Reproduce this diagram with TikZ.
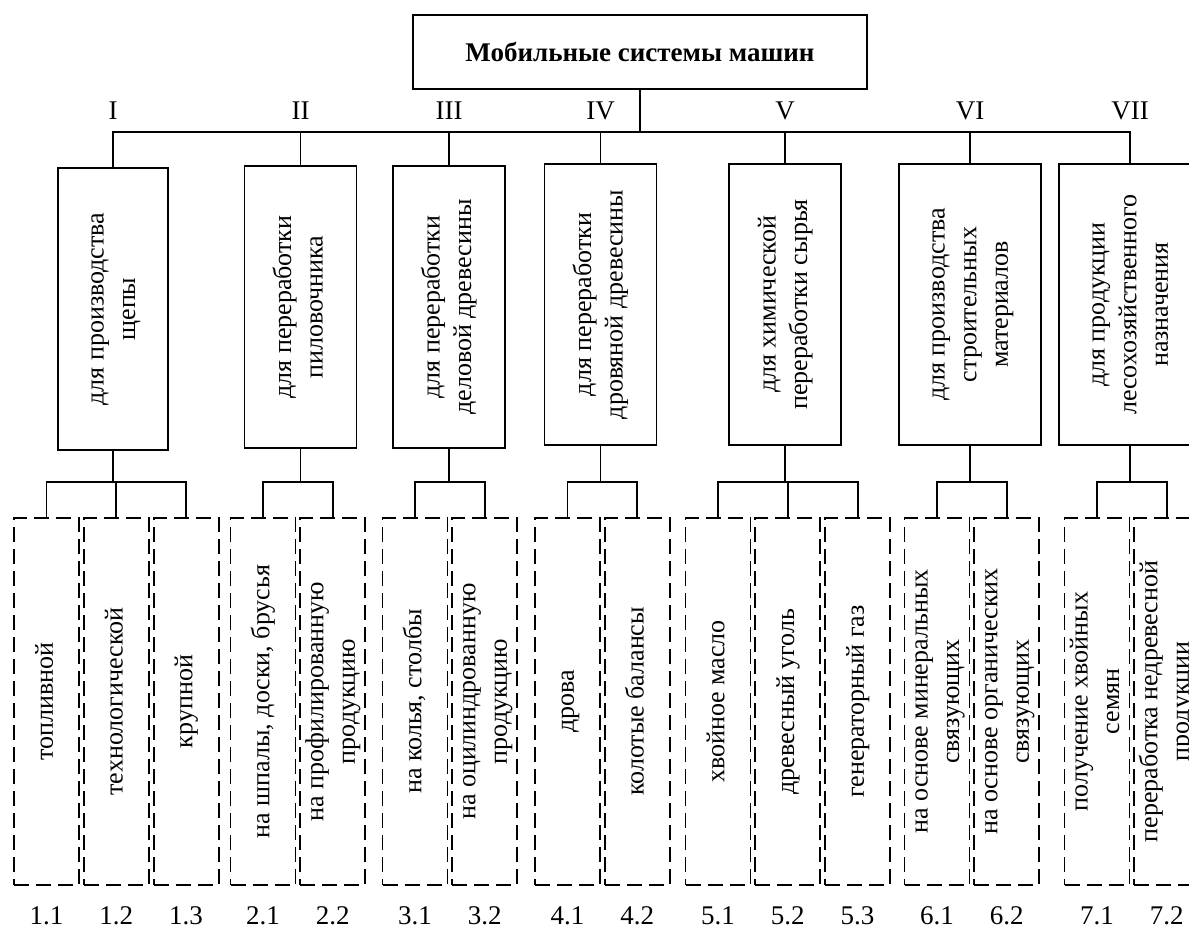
\documentclass[tikz,border=0pt]{standalone}
\usepackage{fontspec}
\setmainfont{Liberation Serif}
\usepackage{graphicx}
\usetikzlibrary{positioning}

\tikzset{
  rootbox/.style={draw, line width=0.9pt, minimum width=227pt, minimum height=37pt, font=\fontsize{13.5}{16}\selectfont\bfseries},
  classbox/.style={draw, line width=0.9pt, minimum width=56pt, minimum height=141pt, inner sep=0pt},
  leafbox/.style={draw, line width=0.9pt, dash pattern=on 7.5pt off 3.5pt, minimum width=32.5pt, minimum height=183.5pt, inner sep=0pt},
  romanlabel/.style={inner sep=0pt},
  numlabel/.style={inner sep=0pt, below=10pt of #1},
  link/.style={line width=0.9pt}
}
\newcommand{\vtext}[1]{\rotatebox{90}{\fontsize{13}{15.8}\selectfont\begin{tabular}{@{}c@{}}#1\end{tabular}}}

\begin{document}
\begin{tikzpicture}[x=0.5pt, y=0.5pt, font=\fontsize{13.5}{16}\selectfont]
  \useasboundingbox (0,0) rectangle (1189,-927);

  \node[rootbox] (root) at (640,-51.75) {Мобильные системы машин};
  \coordinate (bus) at (640,-132);
  \coordinate (sub) at (0,-482);

  % classes of machine systems
  \node[classbox, minimum width=55pt] (c1) at (113,-309) {\vtext{для производства\\щепы}};
  \node[classbox] (c2) at (300.5,-307) {\vtext{для переработки\\пиловочника}};
  \node[classbox] (c3) at (449,-307) {\vtext{для переработки\\деловой древесины}};
  \node[classbox, minimum height=140.5pt] (c4) at (600.5,-304.5) {\vtext{для переработки\\дровяной древесины}};
  \node[classbox, minimum height=140.5pt] (c5) at (785,-304.5) {\vtext{для химической\\переработки сырья}};
  \node[classbox, minimum width=71pt, minimum height=140.5pt] (c6) at (970,-304.5) {\vtext{для производства\\строительных\\материалов}};
  \node[classbox, minimum width=71pt, minimum height=140.5pt] (c7) at (1130,-304.5) {\vtext{для продукции\\лесохозяйственного\\назначения}};

  \draw[link] (root) -- (bus);
  \draw[link] (c1.north) |- (c7.north |- bus) -- (c7.north);
  \foreach \c in {c2,c3,c4,c5,c6}
    \draw[link] (\c.north |- bus) -- (\c.north);

  \node[romanlabel, above=6pt of c1.north |- bus] (r1) {I};
  \node[romanlabel, above=6pt of c2.north |- bus] (r2) {II};
  \node[romanlabel, above=6pt of c3.north |- bus] (r3) {III};
  \node[romanlabel, above=6pt of c4.north |- bus] (r4) {IV};
  \node[romanlabel, above=6pt of c5.north |- bus] (r5) {V};
  \node[romanlabel, above=6pt of c6.north |- bus] (r6) {VI};
  \node[romanlabel, above=6pt of c7.north |- bus] (r7) {VII};

  % products
  \node[leafbox] (l11) at (46.5,-701.5) {\vtext{топливной}};
  \node[leafbox, right=1.5pt of l11] (l12) {\vtext{технологической}};
  \node[leafbox, right=1.5pt of l12] (l13) {\vtext{крупной}};

  \node[leafbox] (l21) at (263,-701.5) {\vtext{на шпалы, доски, брусья}};
  \node[leafbox, right=1.5pt of l21] (l22) {\vtext{на профилированную\\продукцию}};

  \node[leafbox] (l31) at (415,-701.5) {\vtext{на колья, столбы}};
  \node[leafbox, right=1.5pt of l31] (l32) {\vtext{на оцилиндрованную\\продукцию}};

  \node[leafbox] (l41) at (567.5,-701.5) {\vtext{дрова}};
  \node[leafbox, right=1.5pt of l41] (l42) {\vtext{колотые балансы}};

  \node[leafbox] (l51) at (718,-701.5) {\vtext{хвойное масло}};
  \node[leafbox, right=1.5pt of l51] (l52) {\vtext{древесный уголь}};
  \node[leafbox, right=1.5pt of l52] (l53) {\vtext{генераторный газ}};

  \node[leafbox] (l61) at (937,-701.5) {\vtext{на основе минеральных\\связующих}};
  \node[leafbox, right=1.5pt of l61] (l62) {\vtext{на основе органических\\связующих}};

  \node[leafbox] (l71) at (1097,-701.5) {\vtext{получение хвойных\\семян}};
  \node[leafbox, right=1.5pt of l71] (l72) {\vtext{переработка недревесной\\продукции}};

  \foreach \c in {c1,c2,c3,c4,c5,c6,c7}
    \draw[link] (\c.south) -- (\c.south |- sub);
  \draw[link] (l11.north) |- (l13.north |- sub) -- (l13.north);
  \draw[link] (l12.north |- sub) -- (l12.north);
  \draw[link] (l21.north) |- (l22.north |- sub) -- (l22.north);
  \draw[link] (l31.north) |- (l32.north |- sub) -- (l32.north);
  \draw[link] (l41.north) |- (l42.north |- sub) -- (l42.north);
  \draw[link] (l51.north) |- (l53.north |- sub) -- (l53.north);
  \draw[link] (l52.north |- sub) -- (l52.north);
  \draw[link] (l61.north) |- (l62.north |- sub) -- (l62.north);
  \draw[link] (l71.north) |- (l72.north |- sub) -- (l72.north);

  \node[numlabel=l11] (n11) {1.1};
  \node[numlabel=l12] (n12) {1.2};
  \node[numlabel=l13] (n13) {1.3};
  \node[numlabel=l21] (n21) {2.1};
  \node[numlabel=l22] (n22) {2.2};
  \node[numlabel=l31] (n31) {3.1};
  \node[numlabel=l32] (n32) {3.2};
  \node[numlabel=l41] (n41) {4.1};
  \node[numlabel=l42] (n42) {4.2};
  \node[numlabel=l51] (n51) {5.1};
  \node[numlabel=l52] (n52) {5.2};
  \node[numlabel=l53] (n53) {5.3};
  \node[numlabel=l61] (n61) {6.1};
  \node[numlabel=l62] (n62) {6.2};
  \node[numlabel=l71] (n71) {7.1};
  \node[numlabel=l72] (n72) {7.2};
\end{tikzpicture}
\end{document}
